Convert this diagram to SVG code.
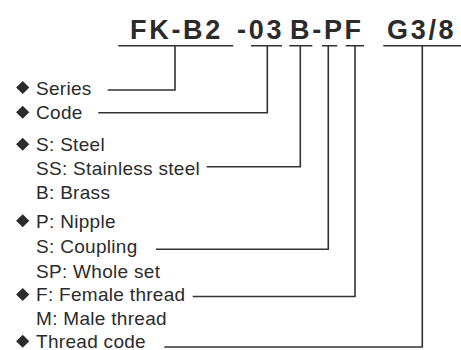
<svg xmlns="http://www.w3.org/2000/svg" width="461" height="350" viewBox="0 0 461 350">
<style>
.t{font-family:"Liberation Sans",Arial,sans-serif;font-weight:bold;font-size:27px;letter-spacing:2.7px;fill:#2b2b2b}
.l{font-family:"Liberation Sans",Arial,sans-serif;font-size:19px;letter-spacing:0.3px;fill:#2b2b2b}
.c{fill:none;stroke:#333;stroke-width:1.6}
.d{fill:#2b2b2b}
</style>
<defs>
<polygon id="dm" points="0,-6.5 6.6,0 0,6.5 -6.6,0"/>
</defs>
<rect width="461" height="350" fill="#fff"/>
<g id="title">
<text class="t" x="130" y="39.3">FK-B2</text>
<text class="t" x="237" y="39.3">-03</text>
<text class="t" x="290" y="39.3">B-PF</text>
<text class="t" x="387" y="39.3">G3/8</text>
</g>
<g id="connectors" class="c">
<path d="M118.3,45.7H233.3M251,45.7H282M289.3,45.7H312.3M322,45.7H337.3M345.7,45.7H364M383.3,45.7H461"/>
<path d="M107.7,90H175V45.7"/>
<path d="M98.3,112.7H267.3V45.7"/>
<path d="M206.7,166.7H300.3V45.7"/>
<path d="M156,249.3H328.3V45.7"/>
<path d="M192.7,296.5H355V45.7"/>
<path d="M164.3,347H422.3V45.7"/>
</g>
<g id="series"><use href="#dm" class="d" x="22.7" y="87.5"/><text class="l" x="36" y="94.5">Series</text></g>
<g id="code"><use href="#dm" class="d" x="22.7" y="112.3"/><text class="l" x="36" y="119">Code</text></g>
<g id="material"><use href="#dm" class="d" x="22.7" y="144.2"/>
<text class="l" x="36" y="150.7">S: Steel</text>
<text class="l" x="36" y="174.5">SS: Stainless steel</text>
<text class="l" x="36" y="199.3">B: Brass</text></g>
<g id="type"><use href="#dm" class="d" x="22.7" y="220.8"/>
<text class="l" x="36" y="227.7">P: Nipple</text>
<text class="l" x="36" y="253.3">S: Coupling</text>
<text class="l" x="36" y="277.7">SP: Whole set</text></g>
<g id="thread"><use href="#dm" class="d" x="22.7" y="294.4"/>
<text class="l" x="36" y="300.7">F: Female thread</text>
<text class="l" x="36" y="325">M: Male thread</text></g>
<g id="threadcode"><use href="#dm" class="d" x="22.7" y="341.3"/><text class="l" x="36" y="348.2">Thread code</text></g>
</svg>
